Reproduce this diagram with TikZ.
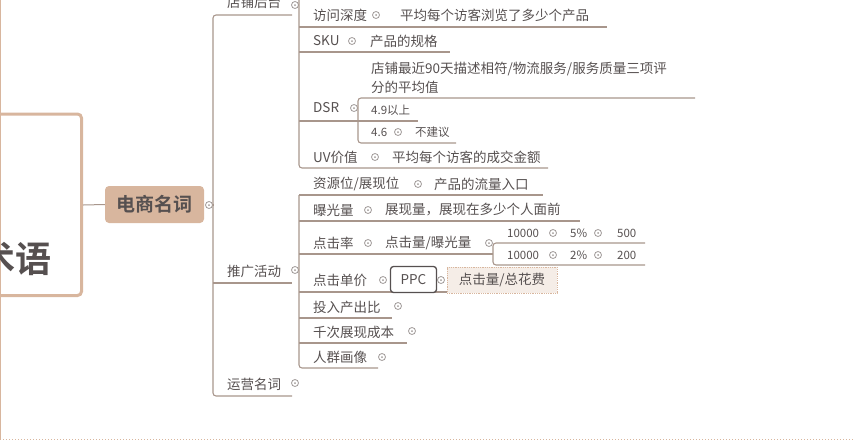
\documentclass[tikz,border=0pt]{standalone}
\usepackage{fontspec}
\setmainfont{Noto Sans CJK SC}[BoldFont={Noto Sans CJK SC Bold}]
\definecolor{txt}{HTML}{565050}
\definecolor{tan}{HTML}{D8B69E}
\definecolor{ul}{HTML}{A8968C}
\definecolor{dotc}{HTML}{A09A98}
\tikzset{
  lbl/.style={anchor=west,inner sep=0pt,text=txt,font=\fontsize{13.5}{16}\selectfont},
  sml/.style={anchor=west,inner sep=0pt,text=txt,font=\fontsize{11.5}{14}\selectfont},
  uline/.style={draw=ul,line width=1.1pt},
  brk/.style={draw=ul,line width=1.1pt,rounded corners=3pt},
  knob/.style={circle,draw=dotc,line width=0.8pt,minimum size=7pt,inner sep=0pt,
     path picture={\fill[dotc] (path picture bounding box.center) circle (1pt);}},
}
\begin{document}
\begin{tikzpicture}[x=1pt,y=-1pt]
\useasboundingbox (0,0) rectangle (854,440);
% frame
\draw[tan,line width=1.2pt] (0.6,0) -- (0.6,440);
\draw[tan,line width=1pt,dotted] (0,439) -- (854,439);
\draw[tan,line width=3pt,rounded corners=4pt] (-20,114) -- (81.5,114) -- (81.5,295.5) -- (-20,295.5);
\node[anchor=east,inner sep=0pt,text=txt,font=\fontsize{36}{40}\bfseries] (root) at (52,259) {术语};
\coordinate (rootR) at (83,205);
% main topic
\node[fill=tan,rounded corners=4pt,minimum width=99pt,minimum height=37pt,inner sep=0pt,
      text=txt,font=\fontsize{19}{22}\bfseries] (topic) at (154.5,204.5) {电商名词};
\draw[draw=ul,line width=1pt] (rootR) -- (topic.west);
\node[knob] (tk) at (209,205) {};
% level 1
\node[lbl] (dp) at (227,2) {店铺后台};
\node[lbl] (tg) at (227,271) {推广活动};
\node[lbl] (yy) at (227,384) {运营名词};
\node[knob] (dpk) at (295,5) {};
\node[knob] (tgk) at (295,270) {};
\node[knob] (yyk) at (295,383) {};
\draw[uline] (tk.east) -- (213,205);
\draw[brk] (292,15) -- (213,15) -- (213,396) -- (292,396);
\draw[uline] (213,283) -- (292,283);
% level 2: 店铺后台
\draw[brk] (299,0) -- (299,168) -- (548,168);
\node[lbl] (fw) at (313,15) {访问深度};
\node[knob] (fwk) at (376,15) {};
\node[lbl] (fwd) at (400,15) {平均每个访客浏览了多少个产品};
\draw[uline] (299,27) -- (607,27);
\node[lbl] (sku) at (313,41) {SKU};
\node[knob] (skuk) at (352,41) {};
\node[lbl] (skud) at (370,41) {产品的规格};
\draw[uline] (299,52) -- (450,52);
\node[lbl] (dsr) at (313,108) {DSR};
\node[knob] (dsrk) at (354,108) {};
\draw[uline] (299,121) -- (358,121);
\node[lbl,align=left,font=\fontsize{13.5}{19}\selectfont] (dsrd) at (371,77.5) {店铺最近90天描述相符/物流服务/服务质量三项评\\分的平均值};
\draw[brk] (695,98) -- (358,98) -- (358,143) -- (456,143);
\node[sml] (d49) at (371,110) {4.9以上};
\draw[uline] (358,121) -- (418,121);
\node[sml] (d46) at (371,132) {4.6};
\node[knob] (d46k) at (398,132) {};
\node[sml] (d46d) at (415,132) {不建议};
\node[lbl] (uv) at (313,157) {UV价值};
\node[knob] (uvk) at (375,157) {};
\node[lbl] (uvd) at (392,157) {平均每个访客的成交金额};
% level 2: 推广活动
\draw[brk] (299,195) -- (299,368) -- (378,368);
\node[lbl] (zy) at (313,184) {资源位/展现位};
\node[knob] (zyk) at (418,184) {};
\node[lbl] (zyd) at (434,184) {产品的流量入口};
\draw[uline] (299,195) -- (543,195);
\node[lbl] (bg) at (313,210) {曝光量};
\node[knob] (bgk) at (368,210) {};
\node[lbl] (bgd) at (385,210) {展现量，展现在多少个人面前};
\draw[uline] (299,221) -- (580,221);
\node[lbl] (dj) at (313,243) {点击率};
\node[knob] (djk) at (368,243) {};
\node[lbl] (djd) at (385,243) {点击量/曝光量};
\node[knob] (djdk) at (489,243) {};
\draw[uline] (299,254) -- (493,254);
\draw[brk] (645,243) -- (493,243) -- (493,265) -- (645,265);
\node[sml] (r1a) at (507,233) {10000};
\node[knob] (r1k) at (553,233) {};
\node[sml] (r1b) at (570,233) {5\%};
\node[knob] (r1k2) at (598,233) {};
\node[sml] (r1c) at (617,233) {500};
\node[sml] (r2a) at (507,255) {10000};
\node[knob] (r2k) at (553,255) {};
\node[sml] (r2b) at (570,255) {2\%};
\node[knob] (r2k2) at (598,255) {};
\node[sml] (r2c) at (617,255) {200};
\node[lbl] (djj) at (313,280) {点击单价};
\node[knob] (djjk) at (383,280) {};
\draw[uline] (299,292) -- (557,292);
\node[draw=txt,line width=1.3pt,rounded corners=3pt,fill=white,minimum width=46pt,minimum height=26pt,
      inner sep=0pt,text=txt,font=\fontsize{13.5}{16}\selectfont] (ppc) at (413.5,279.5) {PPC};
\node[knob] (ppck) at (441,280) {};
\node[draw=tan,densely dotted,line width=0.8pt,fill=tan!25,minimum width=110pt,minimum height=26pt,
      inner sep=0pt,text=txt,font=\fontsize{13.5}{16}\selectfont] (ppcd) at (502,280) {点击量/总花费};
\node[lbl] (tr) at (313,307) {投入产出比};
\node[knob] (trk) at (398,306) {};
\draw[uline] (299,318) -- (392,318);
\node[lbl] (qc) at (313,332) {千次展现成本};
\node[knob] (qck) at (412,331) {};
\draw[uline] (299,343) -- (407,343);
\node[lbl] (rq) at (313,357) {人群画像};
\node[knob] (rqk) at (382,357) {};
\end{tikzpicture}
\end{document}
